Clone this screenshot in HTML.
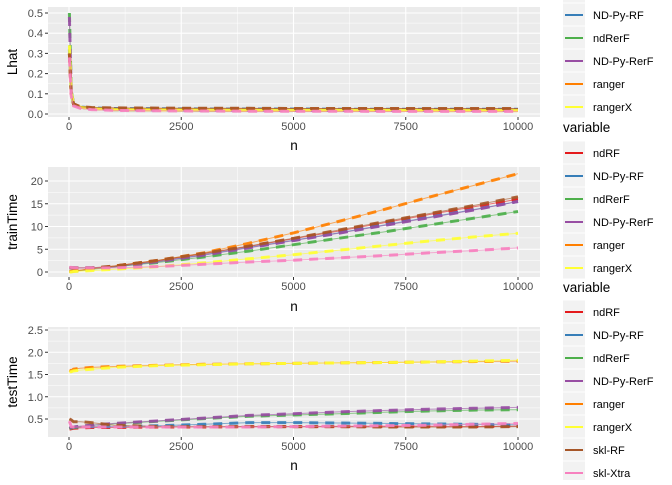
<!DOCTYPE html>
<html><head><meta charset="utf-8"><style>
body{margin:0;background:#fff;font-family:"Liberation Sans",sans-serif}
svg text{font-family:"Liberation Sans",sans-serif}
</style></head><body>
<svg id="c" width="672" height="480" xmlns="http://www.w3.org/2000/svg"></svg>
<script>
const nVals=[10,50,100,250,500,1000,2000,3000,4000,5000,6000,7000,8000,9000,10000];
const seriesNames=["ndRF","ND-Py-RF","ndRerF","ND-Py-RerF","ranger","rangerX","skl-RF","skl-Xtra"];
const colors=["#E41A1C","#377EB8","#4DAF4A","#984EA3","#FF7F00","#FFFF33","#A65628","#F781BF"];
const lhat={
"ndRF":[0.30,0.10,0.05,0.035,0.03,0.028,0.027,0.026,0.026,0.025,0.025,0.025,0.025,0.025,0.025],
"ND-Py-RF":[0.32,0.10,0.05,0.035,0.03,0.027,0.026,0.025,0.025,0.025,0.024,0.024,0.024,0.024,0.024],
"ndRerF":[0.50,0.12,0.05,0.033,0.027,0.022,0.02,0.019,0.019,0.018,0.018,0.018,0.018,0.018,0.018],
"ND-Py-RerF":[0.48,0.12,0.05,0.033,0.027,0.022,0.02,0.019,0.019,0.018,0.018,0.018,0.018,0.018,0.018],
"ranger":[0.30,0.10,0.05,0.035,0.03,0.028,0.027,0.026,0.026,0.026,0.026,0.026,0.025,0.025,0.025],
"rangerX":[0.34,0.11,0.05,0.033,0.027,0.022,0.02,0.019,0.018,0.018,0.018,0.018,0.017,0.017,0.017],
"skl-RF":[0.30,0.10,0.05,0.036,0.032,0.03,0.029,0.028,0.028,0.027,0.027,0.027,0.027,0.027,0.027],
"skl-Xtra":[0.28,0.09,0.04,0.028,0.022,0.018,0.016,0.015,0.014,0.014,0.014,0.013,0.013,0.013,0.013]};
const train={
"ndRF":[0.1,0.1,0.2,0.4,0.7,1.3,2.5,4.0,5.6,7.3,9.0,10.8,12.6,14.3,16.0],
"ND-Py-RF":[0.9,0.9,0.9,0.9,0.9,1.1,2.3,3.8,5.4,7.0,8.6,10.3,12.0,13.7,15.5],
"ndRerF":[0.1,0.1,0.2,0.3,0.6,1.1,2.1,3.3,4.6,6.0,7.4,8.8,10.3,11.8,13.3],
"ND-Py-RerF":[0.9,0.9,0.9,0.9,0.9,1.1,2.3,3.7,5.3,6.9,8.5,10.2,11.9,13.6,15.5],
"ranger":[0.1,0.1,0.2,0.4,0.7,1.3,2.6,4.2,6.3,8.6,11.1,13.7,16.4,19.0,21.6],
"rangerX":[0.0,0.0,0.1,0.2,0.3,0.6,1.2,2.0,2.9,3.8,4.8,5.8,6.8,7.7,8.5],
"skl-RF":[0.9,0.9,0.9,0.9,0.9,1.3,2.6,4.1,5.7,7.4,9.2,11.0,12.8,14.6,16.5],
"skl-Xtra":[1.0,1.0,0.9,0.9,0.9,0.9,1.2,1.7,2.2,2.6,3.1,3.6,4.2,4.7,5.3]};
const test={
"ndRF":[0.27,0.28,0.29,0.30,0.31,0.31,0.32,0.32,0.33,0.33,0.33,0.33,0.33,0.33,0.34],
"ND-Py-RF":[0.29,0.30,0.31,0.32,0.33,0.33,0.35,0.38,0.42,0.42,0.41,0.40,0.39,0.38,0.37],
"ndRerF":[0.28,0.30,0.31,0.33,0.36,0.39,0.45,0.51,0.56,0.59,0.62,0.65,0.68,0.70,0.71],
"ND-Py-RerF":[0.30,0.31,0.32,0.34,0.36,0.40,0.46,0.52,0.58,0.62,0.66,0.69,0.72,0.74,0.76],
"ranger":[1.60,1.58,1.62,1.64,1.66,1.68,1.71,1.73,1.74,1.75,1.76,1.77,1.78,1.79,1.80],
"rangerX":[1.56,1.56,1.58,1.60,1.62,1.66,1.70,1.72,1.74,1.75,1.76,1.77,1.78,1.80,1.82],
"skl-RF":[0.50,0.48,0.44,0.44,0.42,0.36,0.33,0.33,0.33,0.33,0.33,0.32,0.32,0.32,0.33],
"skl-Xtra":[0.45,0.33,0.32,0.32,0.32,0.32,0.32,0.32,0.32,0.33,0.34,0.35,0.36,0.38,0.40]};
const xTicks=[0,2500,5000,7500,10000];
const lhatTicks=[0,0.1,0.2,0.3,0.4,0.5];
const trainTicks=[0,5,10,15,20];
const testTicks=[0.5,1.0,1.5,2.0,2.5];

const svg=document.getElementById('c');
const NS="http://www.w3.org/2000/svg";
function mk(tag,attrs,parent){const e=document.createElementNS(NS,tag);for(const k in attrs)e.setAttribute(k,attrs[k]);(parent||svg).appendChild(e);return e;}
const X0=48,X1=540;
function xs(v){return 69+(v-0)/10000*(518-69);}

function panel(name,top,bot,y0px,y0v,y1px,y1v,ticks,data,yTitle,fmt,legendStart,legendItems,variableY,xlabY,nY){
  const ys=v=>y0px+(v-y0v)/(y1v-y0v)*(y1px-y0px);
  const g=mk('g',{});
  
  
  const bg=mk('rect',{x:X0,y:top,width:X1-X0,height:bot-top,fill:'#EBEBEB'},g);
  
  
  // minor grid
  for(let i=0;i<xTicks.length-1;i++){const xm=xs((xTicks[i]+xTicks[i+1])/2);mk('line',{x1:xm,x2:xm,y1:top,y2:bot,stroke:'#fff','stroke-width':0.5},g);}
  for(let i=0;i<ticks.length-1;i++){const ym=ys((ticks[i]+ticks[i+1])/2);mk('line',{x1:X0,x2:X1,y1:ym,y2:ym,stroke:'#fff','stroke-width':0.5},g);}
  xTicks.forEach(t=>{const x=xs(t);
    const gl=mk('line',{x1:x,x2:x,y1:top,y2:bot,stroke:'#fff','stroke-width':1.1},g);
    
    mk('line',{x1:x,x2:x,y1:bot,y2:bot+3,stroke:'#333','stroke-width':1},g);
    const tl=mk('text',{x:x,y:bot+13,'font-size':11,fill:'#4D4D4D','text-anchor':'middle'},g);tl.textContent=t;
    });
  ticks.forEach(t=>{const y=ys(t);
    const gl=mk('line',{x1:X0,x2:X1,y1:y,y2:y,stroke:'#fff','stroke-width':1.1},g);
    
    mk('line',{x1:X0-3,x2:X0,y1:y,y2:y,stroke:'#333','stroke-width':1},g);
    const tl=mk('text',{x:X0-5,y:y+4,'font-size':11,fill:'#4D4D4D','text-anchor':'end'},g);tl.textContent=fmt(t);
    });
  const cp='clip-'+name;
  const cl=mk('clipPath',{id:cp},g);mk('rect',{x:X0,y:top,width:X1-X0,height:bot-top},cl);
  const lg=mk('g',{'clip-path':'url(#'+cp+')'},g);
  seriesNames.forEach((s,i)=>{
    const pts=nVals.map((n,j)=>xs(n).toFixed(1)+','+ys(data[s][j]).toFixed(1)).join(' ');
    const thin=mk('polyline',{points:pts,fill:'none',stroke:colors[i],'stroke-width':1,'stroke-opacity':0.6},lg);
    
    const l=mk('polyline',{points:pts,fill:'none',stroke:colors[i],'stroke-width':3,'stroke-dasharray':'9,7','stroke-opacity':0.9},lg);
    
  });
  const yt=mk('text',{x:0,y:0,'font-size':13.5,fill:'#000','text-anchor':'middle',transform:`translate(17,${(top+bot)/2}) rotate(-90)`},g);
  yt.textContent=yTitle;
  const xt=mk('text',{x:(X0+X1)/2,y:nY,'font-size':13.5,fill:'#000','text-anchor':'middle'},g);
  xt.textContent='n';
  // legend
  legendItems.forEach((idx,k)=>{
    const cy=legendStart+k*23;
    const key=mk('rect',{x:563,y:cy-11.5,width:22,height:22,fill:'#F2F2F2'},g);
    
    if(idx>=0){
      mk('line',{x1:565,x2:583,y1:cy,y2:cy,stroke:colors[idx],'stroke-width':2},g);
      const t=mk('text',{x:593,y:cy+4,'font-size':11,fill:'#000'},g);t.textContent=seriesNames[idx];
      
    }
  });
  if(variableY){const vt=mk('text',{x:563,y:variableY,'font-size':13.5,fill:'#000'},g);vt.textContent='variable';
    }
}
panel('lhat',7,117,114,0,13,0.5,lhatTicks,lhat,'Lhat',v=>v.toFixed(1),-8,[-1,1,2,3,4,5],null,130,150);
panel('train',167,277,272,0,181,20,trainTicks,train,'trainTime',v=>v,153,[0,1,2,3,4,5],132,291,311);
panel('test',327,437,419,0.5,330,2.5,testTicks,test,'testTime',v=>v.toFixed(1),312,[0,1,2,3,4,5,6,7,-1],292,450,470);
// cover legends overlapping areas is unnecessary; "variable" titles drawn per panel
</script>
</body></html>
